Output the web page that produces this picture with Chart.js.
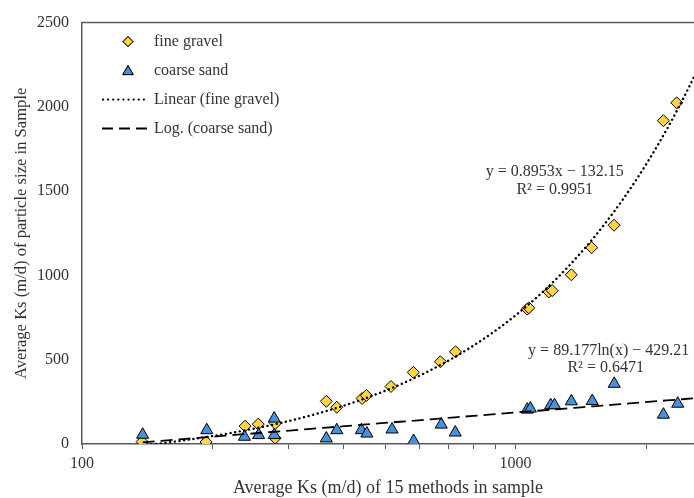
<!DOCTYPE html>
<html>
<head>
<meta charset="utf-8">
<script src="https://cdn.jsdelivr.net/npm/chart.js@4/dist/chart.umd.min.js"></script>
<style>
html,body{margin:0;padding:0;background:#fff;}
#wrap{width:694px;height:498px;position:relative;overflow:hidden;}
</style>
</head>
<body>
<div id="wrap"><canvas id="c" width="694" height="498"></canvas></div>
<script>
// ---- data ----
const fineGravelX = [137.6, 193.3, 237.8, 255, 279, 279, 366, 387, 442.6, 452.8, 516, 581, 671, 727, 1064, 1073, 1193, 1215, 1345, 1498, 1687, 2193, 2354];
const fineGravelY = [14, 12, 106, 118, 122, 35, 253, 218, 270, 288, 341, 425, 488, 547, 800, 808, 902, 910, 1004, 1165, 1298, 1918, 2024];
const coarseSandX = [138, 194, 237, 255.5, 277.6, 277.6, 366, 387, 441, 454, 519, 582, 674, 726, 1064, 1082, 1205, 1230, 1345, 1503, 1689, 2193, 2366];
const coarseSandY = [55, 82, 43, 53, 53, 151, 33, 82, 82, 62, 86, 18, 115, 68, 204, 210, 230, 230, 253, 255, 357, 174, 239];
const xTickValues = [100, 200, 300, 400, 500, 600, 700, 800, 900, 1000, 2000];
const xTickLabels = {100: '100', 1000: '1000'};
const yTickValues = [0, 500, 1000, 1500, 2000, 2500];
// trendline equations shown on the chart
const linSlope = 0.8953, linIntercept = -132.15, linR2 = '0.9951';
const logCoef = 89.177, logIntercept = -429.21, logR2 = '0.6471';
const seriesNames = ['fine gravel', 'coarse sand', 'Linear (fine gravel)', 'Log. (coarse sand)'];
const xMin = 100, xMax = 2580, yMin = 0, yMax = 2500;

const FONT = "'Liberation Serif','Times New Roman',serif";
const TXT = '#333333';
const AX = '#595959';
const DIAMOND_FILL = '#FFD34F';
const TRI_FILL = '#4A90D9';

const finePts = fineGravelX.map((x, i) => ({x, y: fineGravelY[i]}));
const coarsePts = coarseSandX.map((x, i) => ({x, y: coarseSandY[i]}));

// fitted curves evaluated from the displayed equations
function curve(f, x0, x1, n) {
  const pts = [];
  for (let i = 0; i <= n; i++) {
    const x = x0 * Math.pow(x1 / x0, i / n);
    pts.push({x, y: f(x)});
  }
  return pts;
}
const linPts = curve(x => linSlope * x + linIntercept, Math.min(...fineGravelX), xMax, 200);
const logPts = curve(x => logCoef * Math.log(x) + logIntercept, Math.min(...coarseSandX), xMax, 60);

const legendAndText = {
  id: 'legendAndText',
  afterDraw(chart) {
    const ctx = chart.ctx;
    const a = chart.chartArea;
    const xs = chart.scales.x, ys = chart.scales.y;
    ctx.save();
    // top frame line
    ctx.strokeStyle = AX; ctx.lineWidth = 1.5;
    ctx.beginPath(); ctx.moveTo(a.left, a.top); ctx.lineTo(a.right + 2, a.top); ctx.stroke();

    // legend
    ctx.font = '16px ' + FONT;
    ctx.fillStyle = TXT;
    ctx.textBaseline = 'middle';
    ctx.textAlign = 'left';
    const rows = [a.top + 19, a.top + 48, a.top + 77, a.top + 106];
    const mx = a.left + 46, tx = a.left + 72;
    ctx.lineWidth = 1;
    ctx.strokeStyle = '#000';
    ctx.fillStyle = DIAMOND_FILL;
    Chart.helpers.drawPoint(ctx, {pointStyle: 'rectRot', radius: 5, borderWidth: 1}, mx, rows[0]);
    ctx.fill(); ctx.stroke();
    ctx.fillStyle = TRI_FILL;
    Chart.helpers.drawPoint(ctx, {pointStyle: 'triangle', radius: 6, borderWidth: 1}, mx, rows[1] + 1);
    ctx.fill(); ctx.stroke();
    ctx.strokeStyle = '#000';
    ctx.lineWidth = 2.2; ctx.lineCap = 'round';
    ctx.setLineDash([0.1, 5]);
    ctx.beginPath(); ctx.moveTo(a.left + 21, rows[2]); ctx.lineTo(a.left + 66, rows[2]); ctx.stroke();
    ctx.lineCap = 'butt'; ctx.lineWidth = 2;
    ctx.setLineDash([11, 6]);
    ctx.beginPath(); ctx.moveTo(a.left + 20, rows[3]); ctx.lineTo(a.left + 67, rows[3]); ctx.stroke();
    ctx.setLineDash([]);
    ctx.fillStyle = TXT;
    seriesNames.forEach((n, i) => ctx.fillText(n, tx, rows[i]));

    // equations
    ctx.font = '16px ' + FONT;
    ctx.textAlign = 'center';
    const e1x = xs.getPixelForValue(1231), e1y = ys.getPixelForValue(1612);
    ctx.fillText('y = ' + linSlope + 'x \u2212 ' + Math.abs(linIntercept).toFixed(2), e1x, e1y);
    ctx.fillText('R\u00B2 = ' + linR2, e1x, e1y + 18);
    const e2x = xs.getPixelForValue(1640), e2y = ys.getPixelForValue(553);
    ctx.fillText('y = ' + logCoef + 'ln(x) \u2212 ' + Math.abs(logIntercept).toFixed(2), e2x, e2y);
    ctx.fillText('R\u00B2 = ' + logR2, e2x - 3, e2y + 17);
    ctx.restore();
  }
};

new Chart(document.getElementById('c'), {
  type: 'scatter',
  data: {
    datasets: [
      {label: seriesNames[2], data: linPts, showLine: true, pointRadius: 0, borderColor: '#000', borderWidth: 2.4,
       borderDash: [0.1, 4.6], borderCapStyle: 'round', fill: false, order: 0, tension: 0},
      {label: seriesNames[3], data: logPts, showLine: true, pointRadius: 0, borderColor: '#000', borderWidth: 1.8,
       borderDash: [12, 6], fill: false, order: 1, tension: 0},
      {label: seriesNames[1], data: coarsePts, pointStyle: 'triangle', pointRadius: 7, pointBackgroundColor: TRI_FILL,
       pointBorderColor: '#000', pointBorderWidth: 1, order: 2},
      {label: seriesNames[0], data: finePts, pointStyle: 'rectRot', pointRadius: 6, pointBackgroundColor: DIAMOND_FILL,
       pointBorderColor: '#000', pointBorderWidth: 1, order: 3}
    ]
  },
  options: {
    responsive: false,
    animation: false,
    events: [],
    layout: {autoPadding: false, padding: {top: 19, right: 0, left: 0, bottom: 0}},
    plugins: {legend: {display: false}, tooltip: {enabled: false}},
    scales: {
      x: {
        type: 'logarithmic', min: xMin, max: xMax,
        afterBuildTicks: s => { s.ticks = xTickValues.map(v => ({value: v})); },
        afterFit: s => { s.height = 54; },
        ticks: {autoSkip: false, maxRotation: 0, padding: 5, color: TXT, font: {family: FONT, size: 16},
                callback: v => xTickLabels[v] || ''},
        grid: {display: true, drawOnChartArea: false, drawTicks: true, tickLength: 5, color: AX, lineWidth: 1},
        border: {display: true, color: AX, width: 1.5},
        title: {display: true, text: 'Average Ks (m/d) of 15 methods in sample', color: TXT,
                font: {family: FONT, size: 18}, padding: {top: 0, bottom: -1}}
      },
      y: {
        min: yMin, max: yMax,
        afterBuildTicks: s => { s.ticks = yTickValues.map(v => ({value: v})); },
        afterFit: s => { s.width = 82; },
        ticks: {padding: 13, color: TXT, font: {family: FONT, size: 16}, callback: v => String(v)},
        grid: {display: false, drawTicks: false},
        border: {display: true, color: AX, width: 1.5},
        title: {display: true, text: 'Average Ks (m/d) of particle size in Sample', color: TXT,
                font: {family: FONT, size: 16.6}, padding: {top: 12, bottom: 0}}
      }
    }
  },
  plugins: [legendAndText]
});
</script>
</body>
</html>
